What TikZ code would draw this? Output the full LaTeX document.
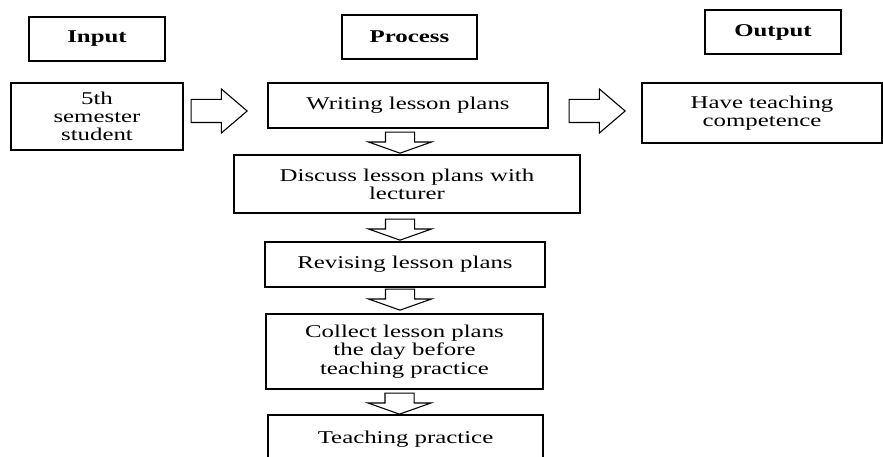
\documentclass[tikz,border=0pt]{standalone}
\usepackage{fontspec}
\setmainfont{Liberation Serif}[FakeStretch=1.38]
\usetikzlibrary{shapes.arrows,calc}
\begin{document}
\begin{tikzpicture}[x=1pt,y=-1pt,
  box/.style={draw, line width=1.2pt, align=center, inner sep=0pt,
    font=\fontsize{18}{18.3}\selectfont},
  headbox/.style={box, line width=1.5pt, font=\fontsize{18}{18.3}\selectfont\bfseries,
    minimum width=136pt, minimum height=44pt},
  rarrow/.style={draw, line width=1.1pt, single arrow, inner sep=0pt,
    text height=22pt, text depth=0pt, text width=0pt,
    minimum height=56pt, single arrow head extend=10.5pt,
    single arrow tip angle=81, anchor=tail},
  darrow/.style={draw, line width=1.1pt, single arrow, inner sep=0pt,
    shape border rotate=270,
    text width=28pt, text height=0pt, text depth=0pt,
    minimum height=21pt, single arrow head extend=17pt,
    single arrow tip angle=141, anchor=tail},
]
\useasboundingbox (0,0) rectangle (883,457);
\clip (0,0) rectangle (883,457);

% column headings
\node[headbox] (hin)  at (97,39)    {Input};
\node[headbox, minimum width=135pt] (hpro) at (409.5,37) {Process};
\node[headbox] (hout) at (773,32)   {Output};

% input and output
\node[box, minimum width=172pt, minimum height=67pt] (stu) at (97,116.5)
  {5th\\semester\\student};
\node[box, minimum width=240pt, minimum height=60pt] (comp) at (762,113)
  {Have teaching\\competence};

% process steps
\node[box, minimum width=280pt, minimum height=45pt] (wr)  at (408,105.5) {Writing lesson plans};
\node[box, minimum width=346pt, minimum height=58pt] (dis) at (407,184)
  {Discuss lesson plans with\\lecturer};
\node[box, minimum width=280pt, minimum height=45pt] (rev) at (405,264.5) {Revising lesson plans};
\node[box, minimum width=277pt, minimum height=75pt] (col) at (404.5,351.5)
  {Collect lesson plans\\the day before\\teaching practice};
\node[box, minimum width=275pt, minimum height=48pt] (tp)  at (405.5,439) {Teaching practice};

% block arrows
\node[rarrow] (a1) at ($(stu.east)+(7,-5.5)$) {};
\node[rarrow] (a2) at ($(wr.east)+(20,5.5)$) {};
\node[darrow] (d1) at ($(wr.south)+(-8,3)$) {};
\node[darrow] (d2) at ($(dis.south)+(-7,5)$) {};
\node[darrow] (d3) at ($(rev.south)+(-5,1)$) {};
\node[darrow] (d4) at ($(col.south)+(-5,3)$) {};
\end{tikzpicture}
\end{document}
